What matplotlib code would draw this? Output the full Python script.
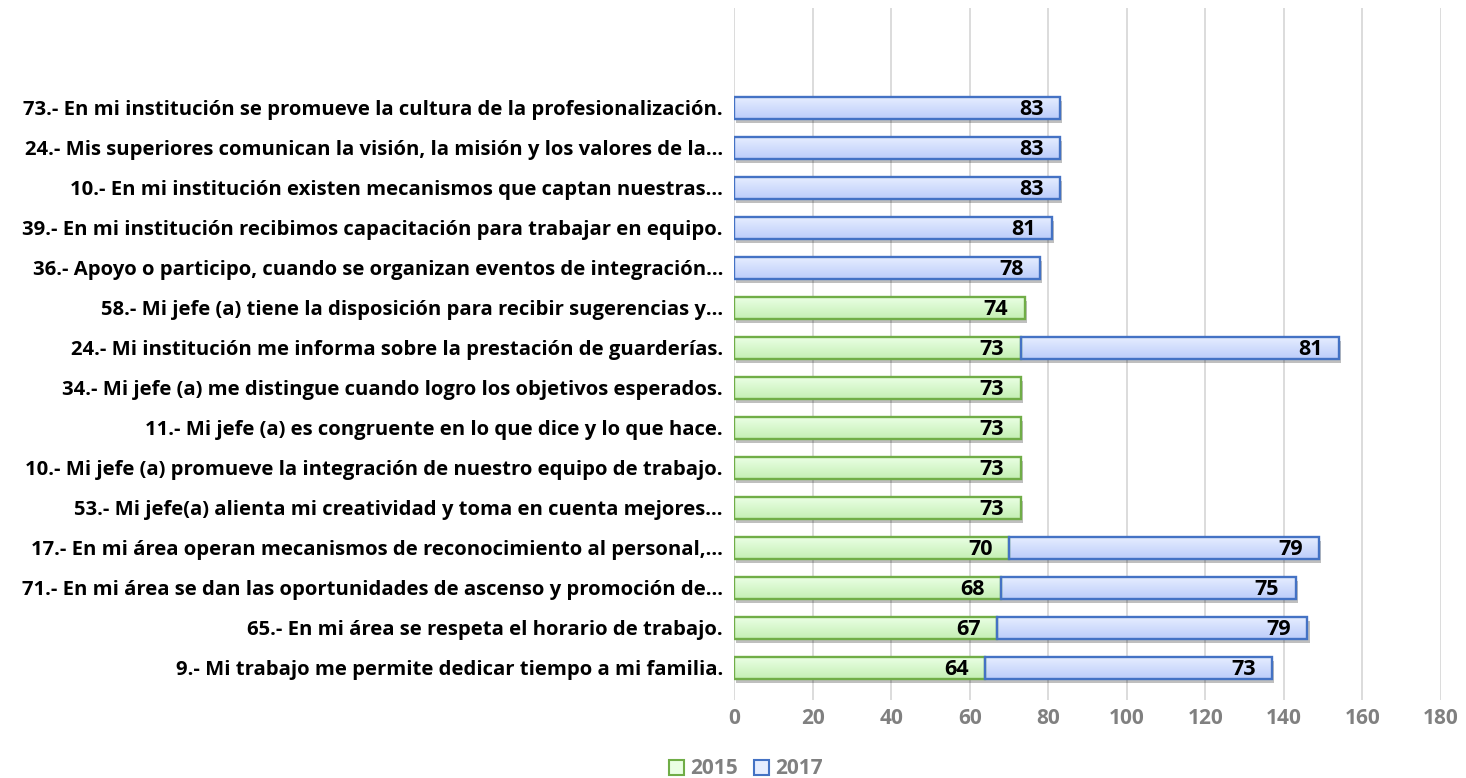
import numpy as np
import matplotlib.pyplot as plt
import matplotlib.patheffects as pe
from matplotlib.patches import Patch

plt.rcParams['font.family'] = ['Open Sans', 'DejaVu Sans']
plt.rcParams['font.weight'] = 'bold'

questions = [
    "9.- Mi trabajo me permite dedicar tiempo a mi familia.",
    "65.- En mi área se respeta el horario de trabajo.",
    "71.- En mi área se dan las oportunidades de ascenso y promoción de…",
    "17.- En mi área operan mecanismos de reconocimiento al personal,…",
    "53.- Mi jefe(a) alienta mi creatividad y toma en cuenta mejores…",
    "10.- Mi jefe (a) promueve la integración de nuestro equipo de trabajo.",
    "11.- Mi jefe (a) es congruente en lo que dice y lo que hace.",
    "34.- Mi jefe (a) me distingue cuando logro los objetivos esperados.",
    "24.- Mi institución me informa sobre la prestación de guarderías.",
    "58.- Mi jefe (a) tiene la disposición para recibir sugerencias y…",
    "36.- Apoyo o participo, cuando se organizan eventos de integración…",
    "39.- En mi institución recibimos capacitación para trabajar en equipo.",
    "10.- En mi institución existen mecanismos que captan nuestras…",
    "24.- Mis superiores comunican la visión, la misión y los valores de la…",
    "73.- En mi institución se promueve la cultura de la profesionalización.",
]
v2015 = [64, 67, 68, 70, 73, 73, 73, 73, 73, 74, 0, 0, 0, 0, 0]
v2017 = [73, 79, 75, 79, 0, 0, 0, 0, 81, 0, 78, 81, 83, 83, 83]
years = ["2015", "2017"]

green_edge, blue_edge = "#70ad47", "#4472c4"
green_grad = ("#eaffe4", "#c4efb4")
blue_grad = ("#e6edff", "#bccdfa")

fig = plt.figure(figsize=(14.66, 7.78), dpi=100)
ax = fig.add_axes([734 / 1466, 1 - 700 / 778, (1441 - 734) / 1466, 692 / 778])

y = np.arange(len(questions))
h = 0.55
shadow = [pe.SimplePatchShadow(offset=(1.5, -3), shadow_rgbFace='#000000', alpha=0.25), pe.Normal()]


def gradient_bars(bars, colors):
    c0 = np.array(plt.matplotlib.colors.to_rgb(colors[0]))
    c1 = np.array(plt.matplotlib.colors.to_rgb(colors[1]))
    t = np.linspace(0, 1, 64)[:, None]
    img = (c1 * (1 - t) + c0 * t)[:, None, :]
    for b in bars:
        if b.get_width() == 0:
            b.set_visible(False)
            continue
        x0, y0 = b.get_x(), b.get_y()
        im = ax.imshow(img, extent=(x0, x0 + b.get_width(), y0, y0 + b.get_height()),
                       origin='lower', aspect='auto', zorder=3, interpolation='bilinear')
        im.set_clip_path(b)


b15 = ax.barh(y, v2015, height=h, facecolor='none', edgecolor=green_edge, linewidth=1.7, zorder=4)
b17 = ax.barh(y, v2017, left=v2015, height=h, facecolor='none', edgecolor=blue_edge, linewidth=1.7, zorder=4)
# shadow layer underneath
for bars in (b15, b17):
    for b in bars:
        if b.get_width() > 0:
            s = ax.add_patch(plt.Rectangle((b.get_x(), b.get_y()), b.get_width(), b.get_height(),
                                           facecolor='white', edgecolor='none', zorder=2))
            s.set_path_effects(shadow)
gradient_bars(b15, green_grad)
gradient_bars(b17, blue_grad)

for bars, vals, lefts in ((b15, v2015, [0] * len(y)), (b17, v2017, v2015)):
    for yi, v, l in zip(y, vals, lefts):
        if v:
            ax.text(l + v - 4.2, yi - 0.04, str(v), ha='right', va='center',
                    fontsize=15.5, fontweight='bold', color='black', zorder=5)

ax.set_xlim(0, 180)
ax.set_ylim(-0.8, 16.5)
ax.set_xticks(range(0, 181, 20))
ax.set_yticks(y)
ax.set_yticklabels(questions, fontsize=14.6, fontweight='bold')
ax.tick_params(axis='y', length=0, pad=8)
ax.tick_params(axis='x', length=0, pad=6, labelsize=15, labelcolor='#808080')
ax.grid(axis='x', color='#d9d9d9', linewidth=1.3, zorder=0)
ax.set_axisbelow(True)
for sp in ax.spines.values():
    sp.set_visible(False)

handles = [Patch(facecolor=green_grad[0], edgecolor=green_edge, linewidth=1.5),
           Patch(facecolor=blue_grad[0], edgecolor=blue_edge, linewidth=1.5)]
leg = fig.legend(handles, years, loc='center', bbox_to_anchor=(746 / 1466, 1 - 769 / 778),
                 ncol=2, frameon=False, fontsize=15, handlelength=0.7, handleheight=0.7,
                 handletextpad=0.3, columnspacing=0.8)
for t in leg.get_texts():
    t.set_color('#808080')
    t.set_fontweight('bold')

fig.savefig('out.png', dpi=100)
